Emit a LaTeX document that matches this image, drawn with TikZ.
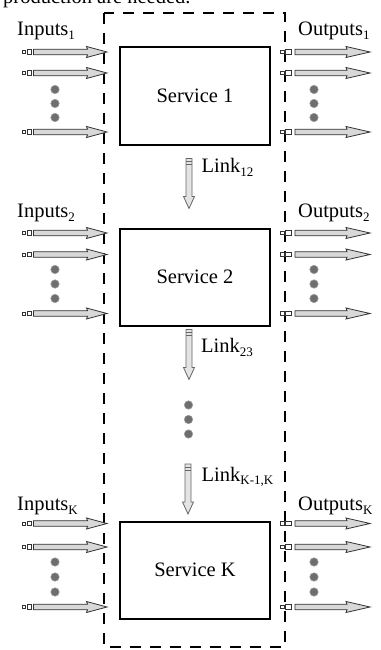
\documentclass[tikz,border=0pt]{standalone}
\usepackage{fontspec}
\setmainfont{Liberation Serif}
\newcommand\sbx[1]{\raisebox{-3.5pt}{\fontsize{13}{13}\selectfont #1}}
\definecolor{arrfill}{HTML}{D8D8D8}
\definecolor{linkfill}{HTML}{E4E4E4}
\definecolor{dotfill}{HTML}{6E6E6E}
\definecolor{dotedge}{HTML}{9A9A9A}
\tikzset{
  every node/.style={font=\fontsize{20.5}{24}\selectfont, inner sep=0pt},
  svc/.style={draw, line width=2pt, minimum width=150pt, minimum height=97pt},
  lbl/.style={anchor=base west},
  arrbody/.style={fill=arrfill, draw=black!80, line width=0.8pt, line join=miter},
  linkbody/.style={fill=linkfill, draw=black!60, line width=0.8pt},
  sqr/.style={draw=black!80, fill=white, line width=0.7pt},
  dotc/.style={fill=dotfill, draw=dotedge, line width=0.6pt},
  boundary/.style={draw, line width=2.8pt, dash pattern=on 11pt off 9pt},
  inarrow/.pic={
    \draw[arrbody] (0,-2.8) -- (54,-2.8) -- (53,-5.5) -- (73.5,0) -- (53,5.5) -- (54,2.8) -- (0,2.8) -- cycle;
    \draw[sqr] (-11.5,-1.6) rectangle (-8.3,1.6);
    \draw[sqr] (-6.5,-2.2) rectangle (-2,2.2);
  },
  outarrow/.pic={
    \draw[arrbody] (0,-2.8) -- (52,-2.8) -- (51,-5.5) -- (75,0) -- (51,5.5) -- (52,2.8) -- (0,2.8) -- cycle;
    \draw[sqr] (-15,-1.7) rectangle (-11,1.7);
    \draw[sqr] (-10,-2.2) rectangle (-3.5,2.2);
  },
  linkarrow/.pic={
    \draw[linkbody] (-3,0) -- (3,0) -- (3,38) -- (5.5,38) -- (0,50) -- (-5.5,38) -- (-3,38) -- cycle;
    \draw[black!60, line width=0.6pt] (-3,3) -- (3,3) (-3,6) -- (3,6);
  },
}
\begin{document}
\begin{tikzpicture}[x=1pt, y=-1pt]
\useasboundingbox (0,0) rectangle (380,650);
\fill[white] (0,0) rectangle (380,650);

% clipped caption fragment at the top
\node[lbl] (cap) at (3,3.5) {production are needed.};

% boundary
\draw[boundary] (104,13) rectangle (285,647);

% services
\node[svc] (s1) at (195,96) {Service 1};
\node[svc] (s2) at (195,277) {Service 2};
\node[svc] (sK) at (195,570) {Service K};

% labels
\node[lbl] (in1) at (17,36) {Inputs\sbx{1}};
\node[lbl] (out1) at (298,36) {Outputs\sbx{1}};
\node[lbl] (in2) at (17,217.5) {Inputs\sbx{2}};
\node[lbl] (out2) at (298,217.5) {Outputs\sbx{2}};
\node[lbl] (inK) at (17,510.5) {Inputs\sbx{K}};
\node[lbl] (outK) at (298,510.5) {Outputs\sbx{K}};

\node[lbl] (l12) at (201.5,172.5) {Link\sbx{12}};
\node[lbl] (l23) at (201,352.5) {Link\sbx{23}};
\node[lbl] (lKK) at (201.5,481) {Link\sbx{K-1,K}};

% input / output arrows
\foreach \y [count=\i] in {52,73,132, 233,254.5,313.5, 523.5,547,607} {
  \coordinate (ia\i) at (33.5,\y);
  \coordinate (oa\i) at (295,\y);
  \pic at (ia\i) {inarrow};
  \pic at (oa\i) {outarrow};
}

% dots
\foreach \y [count=\i] in {89.5,103.5,117.5, 269.5,284,298.5, 562,577,592} {
  \coordinate (di\i) at (55,\y);
  \coordinate (do\i) at (314,\y);
  \draw[dotc] (di\i) circle (4.2);
  \draw[dotc] (do\i) circle (4.2);
}
\foreach \y [count=\i] in {405,419.5,434} {
  \coordinate (dm\i) at (188.5,\y);
  \draw[dotc] (dm\i) circle (4.2);
}

% link arrows
\coordinate (k12) at (189,158.5);
\coordinate (k23) at (189,329.5);
\coordinate (kKK) at (188,464);
\pic at (k12) {linkarrow};
\pic at (k23) {linkarrow};
\pic at (kKK) {linkarrow};
\end{tikzpicture}
\end{document}
